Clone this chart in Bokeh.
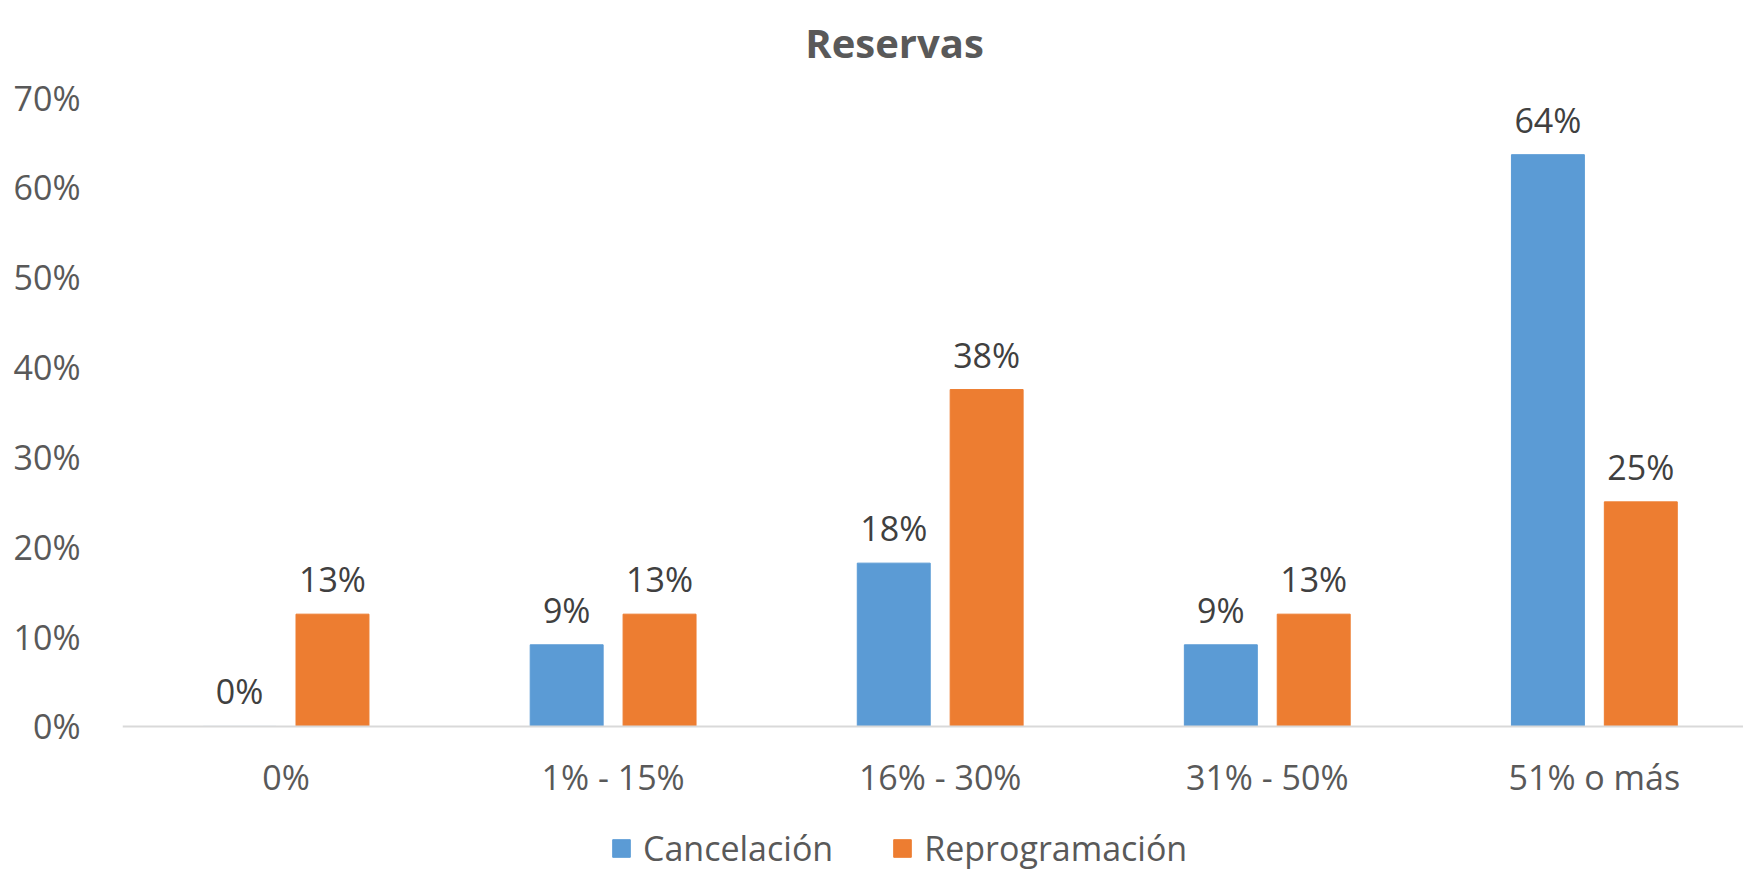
from bokeh.plotting import figure
from bokeh.models import (ColumnDataSource, Range1d, FixedTicker, NumeralTickFormatter,
                          LabelSet, Label, Legend, LegendItem, Span)
from bokeh.transform import dodge
from bokeh.core.properties import value
from bokeh.embed import file_html
from bokeh.resources import INLINE

# ---- data ----
categories = ["0%", "1% - 15%", "16% - 30%", "31% - 50%", "51% o más"]
cancelacion = [0.0, 0.0909, 0.1818, 0.0909, 0.6364]
reprogramacion = [0.125, 0.125, 0.375, 0.125, 0.25]
series_names = ["Cancelación", "Reprogramación"]
y_ticks = [0.0, 0.1, 0.2, 0.3, 0.4, 0.5, 0.6, 0.7]
chart_title = "Reservas"

FONT = "Open Sans"
TEXT = "#595959"
BLUE = "#5B9BD5"
ORANGE = "#ED7D31"


def pct(v):
    return f"{int(v * 100 + 0.5)}%"


pos = list(range(len(categories)))
src = ColumnDataSource(dict(
    x=pos,
    zero=[0.0] * len(pos),
    cat=categories,
    c=cancelacion,
    r=reprogramacion,
    cl=[pct(v) for v in cancelacion],
    rl=[pct(v) for v in reprogramacion],
))

p = figure(frame_width=1621, frame_height=871,
           x_range=Range1d(-0.5, 4.456), y_range=Range1d(-0.1614, 0.808),
           output_backend="svg", toolbar_location=None,
           min_border_left=122, min_border_right=0,
           min_border_top=0, min_border_bottom=0)
p.outline_line_color = None
p.xgrid.visible = False
p.ygrid.visible = False
p.xaxis.visible = False
p.background_fill_color = "white"
p.border_fill_color = "white"

off = 0.142
bw = 0.223
rc = p.vbar(x=dodge("x", -off, range=p.x_range), top="c", width=bw, source=src,
            fill_color=BLUE, line_color=BLUE)
rr = p.vbar(x=dodge("x", off, range=p.x_range), top="r", width=bw, source=src,
            fill_color=ORANGE, line_color=ORANGE)

# category axis baseline and labels
p.add_layout(Span(location=0, dimension="width", line_color="#D9D9D9", line_width=2))
p.add_layout(LabelSet(x="x", y="zero", text="cat", source=src,
                      text_align="center", text_baseline="alphabetic", y_offset=-64,
                      text_font=value(FONT), text_font_size="34px", text_color=TEXT))

# data labels
for col, txt, o in (("c", "cl", -off), ("r", "rl", off)):
    p.add_layout(LabelSet(x=dodge("x", o, range=p.x_range), y=col, text=txt, source=src,
                          text_align="center", text_baseline="alphabetic", y_offset=22,
                          text_font=value(FONT), text_font_size="34px", text_color="#404040"))

ya = p.yaxis[0]
ya.ticker = FixedTicker(ticks=y_ticks)
ya.formatter = NumeralTickFormatter(format="0%")
ya.axis_line_color = None
ya.major_tick_line_color = None
ya.minor_tick_line_color = None
ya.major_label_text_font = FONT
ya.major_label_text_font_size = "34px"
ya.major_label_text_color = TEXT
ya.major_label_standoff = 36

# chart title (screen units, relative to the plot frame)
p.add_layout(Label(x=772, y=829, x_units="screen", y_units="screen", text=chart_title,
                   text_align="center", text_baseline="alphabetic",
                   text_font=FONT, text_font_size="40px", text_font_style="bold",
                   text_color=TEXT))

legend = Legend(items=[LegendItem(label=series_names[0], renderers=[rc]),
                       LegendItem(label=series_names[1], renderers=[rr])],
                orientation="horizontal", location=(488, 0),
                padding=0, margin=0, spacing=58, label_standoff=11,
                glyph_width=22, glyph_height=22,
                label_text_font=FONT, label_text_font_size="34px",
                label_text_color=TEXT,
                border_line_alpha=0, background_fill_alpha=0)
p.add_layout(legend, "center")

open("out.html", "w").write(file_html(p, INLINE))
